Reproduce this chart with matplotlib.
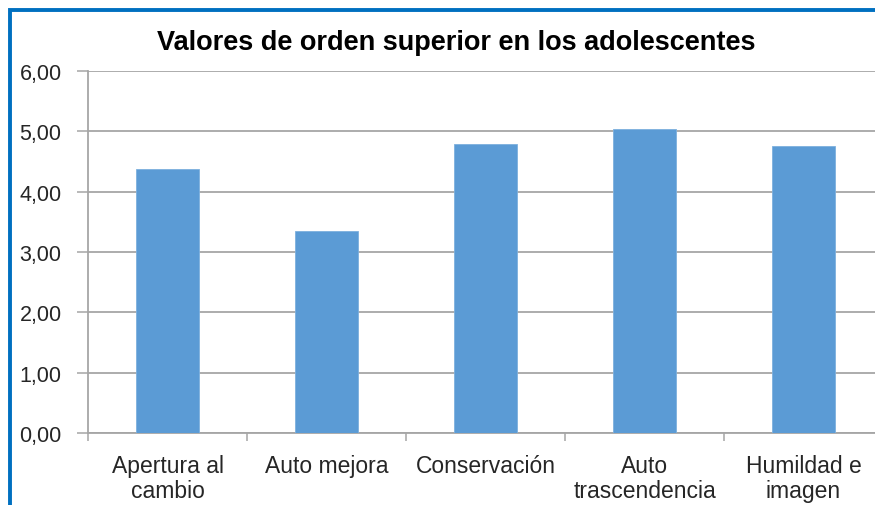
import matplotlib

matplotlib.use("Agg")
import matplotlib.pyplot as plt
from matplotlib.patches import Rectangle
from matplotlib.ticker import FixedLocator, FuncFormatter

categories = [
    "Apertura al\ncambio",
    "Auto mejora",
    "Conservación",
    "Auto\ntrascendencia",
    "Humildad e\nimagen",
]
values = [4.38, 3.35, 4.79, 5.04, 4.75]
y_ticks = [0, 1, 2, 3, 4, 5, 6]
title = "Valores de orden superior en los adolescentes"

BAR_COLOR = "#5B9BD5"
GRID_COLOR = "#A6A6A6"
FRAME_COLOR = "#0070C0"
TEXT_COLOR = "#262626"

plt.rcParams["font.family"] = ["Liberation Sans", "DejaVu Sans"]

W, H = 875, 506
fig = plt.figure(figsize=(W / 100, H / 100), dpi=100)

# blue chart frame, runs off the right and bottom edges
fig.patches.append(
    Rectangle((9.5 / W, -0.1), 1.2, 1 - 10.5 / H + 0.1, transform=fig.transFigure,
              fill=False, edgecolor=FRAME_COLOR, linewidth=2.8, zorder=0)
)

ax = fig.add_axes([88 / W, 1 - 434 / H, (883 - 88) / W, (434 - 72) / H])
x = list(range(len(categories)))
ax.bar(x, values, width=0.4, color=BAR_COLOR, edgecolor="#7DB0DE", linewidth=0.6, zorder=3)

ax.set_xlim(-0.5, len(categories) - 0.5)
ax.set_ylim(0, 6)
ax.set_yticks(y_ticks)
ax.yaxis.set_major_formatter(FuncFormatter(lambda v, _: f"{v:.2f}".replace(".", ",")))
ax.grid(axis="y", color=GRID_COLOR, linewidth=1.3, zorder=0)

ax.set_xticks(x)
ax.set_xticklabels(categories, fontsize=16.5, linespacing=1.12, color=TEXT_COLOR)
ax.xaxis.set_minor_locator(FixedLocator([i - 0.5 for i in range(len(categories) + 1)]))
ax.tick_params(axis="x", which="major", length=0, pad=15)
ax.tick_params(axis="x", which="minor", length=6, width=1.1, color=GRID_COLOR)
ax.tick_params(axis="y", length=8, width=1.1, color=GRID_COLOR, labelsize=15.5,
               labelcolor=TEXT_COLOR, pad=11)

for side in ("top", "right"):
    ax.spines[side].set_visible(False)
for side in ("left", "bottom"):
    ax.spines[side].set_color(GRID_COLOR)
    ax.spines[side].set_linewidth(1.3)

fig.text(456 / W, 1 - 50 / H, title, ha="center", va="baseline",
         fontsize=19.5, fontweight="bold", color="black")

fig.savefig("out.png", dpi=100)
